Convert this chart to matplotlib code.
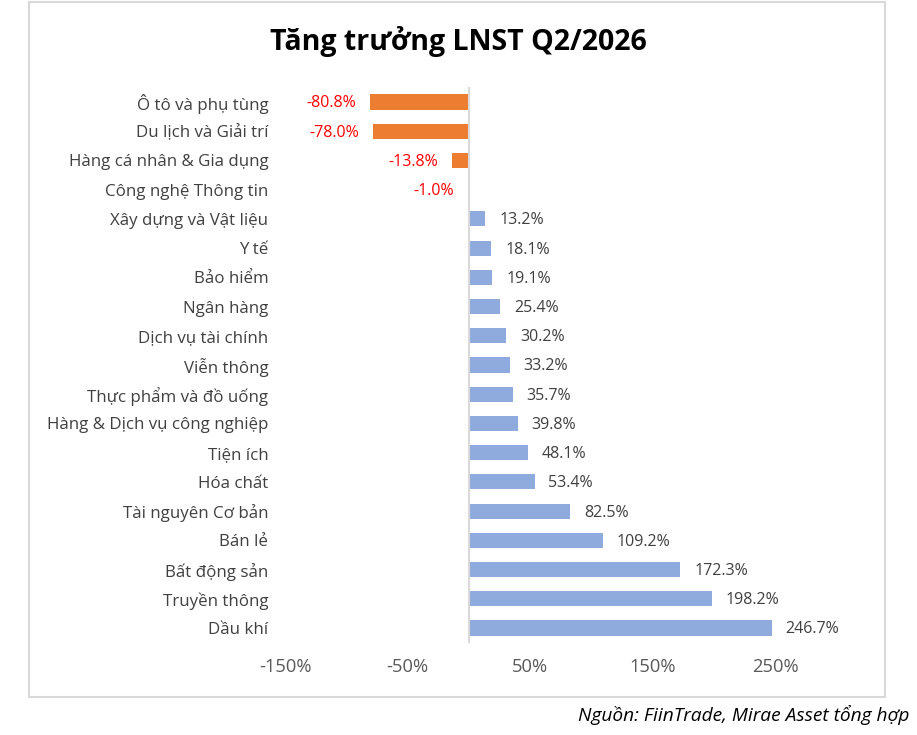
import numpy as np
import matplotlib.pyplot as plt
from matplotlib.patches import Rectangle
from matplotlib.ticker import FuncFormatter

plt.rcParams['font.family'] = ['Open Sans', 'DejaVu Sans']

# Sector names and Q2/2026 NPAT growth (%)
sectors = ['Ô tô và phụ tùng', 'Du lịch và Giải trí', 'Hàng cá nhân & Gia dụng',
           'Công nghệ Thông tin', 'Xây dựng và Vật liệu', 'Y tế', 'Bảo hiểm',
           'Ngân hàng', 'Dịch vụ tài chính', 'Viễn thông', 'Thực phẩm và đồ uống',
           'Hàng & Dịch vụ công nghiệp', 'Tiện ích', 'Hóa chất', 'Tài nguyên Cơ bản',
           'Bán lẻ', 'Bất động sản', 'Truyền thông', 'Dầu khí']
growth = [-80.8, -78.0, -13.8, -1.0, 13.2, 18.1, 19.1, 25.4, 30.2, 33.2, 35.7,
          39.8, 48.1, 53.4, 82.5, 109.2, 172.3, 198.2, 246.7]
x_ticks = [-150, -50, 50, 150, 250]

orange = '#ED7D31'
blue = '#8FAADC'

fig = plt.figure(figsize=(9.17, 7.35), dpi=100)
ax = fig.add_axes([0.3108, 0.1257, 0.602, 0.7554])

y = np.arange(len(sectors))
colors = [orange if v < 0 else blue for v in growth]
ax.barh(y, growth, height=0.52, color=colors)

ax.set_xlim(-150, 300)
ax.set_ylim(len(sectors) - 0.5, -0.5)
ax.axvline(0, color='#d9d9d9', lw=1.5)

for yi, v in zip(y, growth):
    if v < 0:
        ax.annotate(f'{v:.1f}%', (v, yi), xytext=(-10, -1), textcoords='offset points',
                    ha='right', va='center', fontsize=11.5, color='#FF0000')
    else:
        ax.annotate(f'{v:.1f}%', (v, yi), xytext=(10, -1), textcoords='offset points',
                    ha='left', va='center', fontsize=11.5, color='#404040')

ax.set_yticks(y)
ax.set_yticklabels(sectors, fontsize=12.2, color='#404040')
ax.set_xticks(x_ticks)
ax.xaxis.set_major_formatter(FuncFormatter(lambda v, p: f'{v:.0f}%'))
ax.tick_params(axis='x', length=0, pad=11, labelsize=13.2, labelcolor='#595959')
ax.tick_params(axis='y', length=0, pad=12)
for s in ax.spines.values():
    s.set_visible(False)

fig.text(0.5, 0.943, 'Tăng trưởng LNST Q2/2026', ha='center', va='center',
         fontsize=20.5, fontweight='bold', color='black')
fig.text(0.992, 0.027, 'Nguồn: FiinTrade, Mirae Asset tổng hợp', ha='right', va='center',
         fontsize=13.8, style='italic', color='black')

fig.patches.append(Rectangle((29 / 917, 1 - 697 / 735), (885 - 29) / 917, (697 - 2) / 735,
                             transform=fig.transFigure, fill=False, ec='#d9d9d9', lw=1.5))

fig.savefig('out.png', dpi=100)
